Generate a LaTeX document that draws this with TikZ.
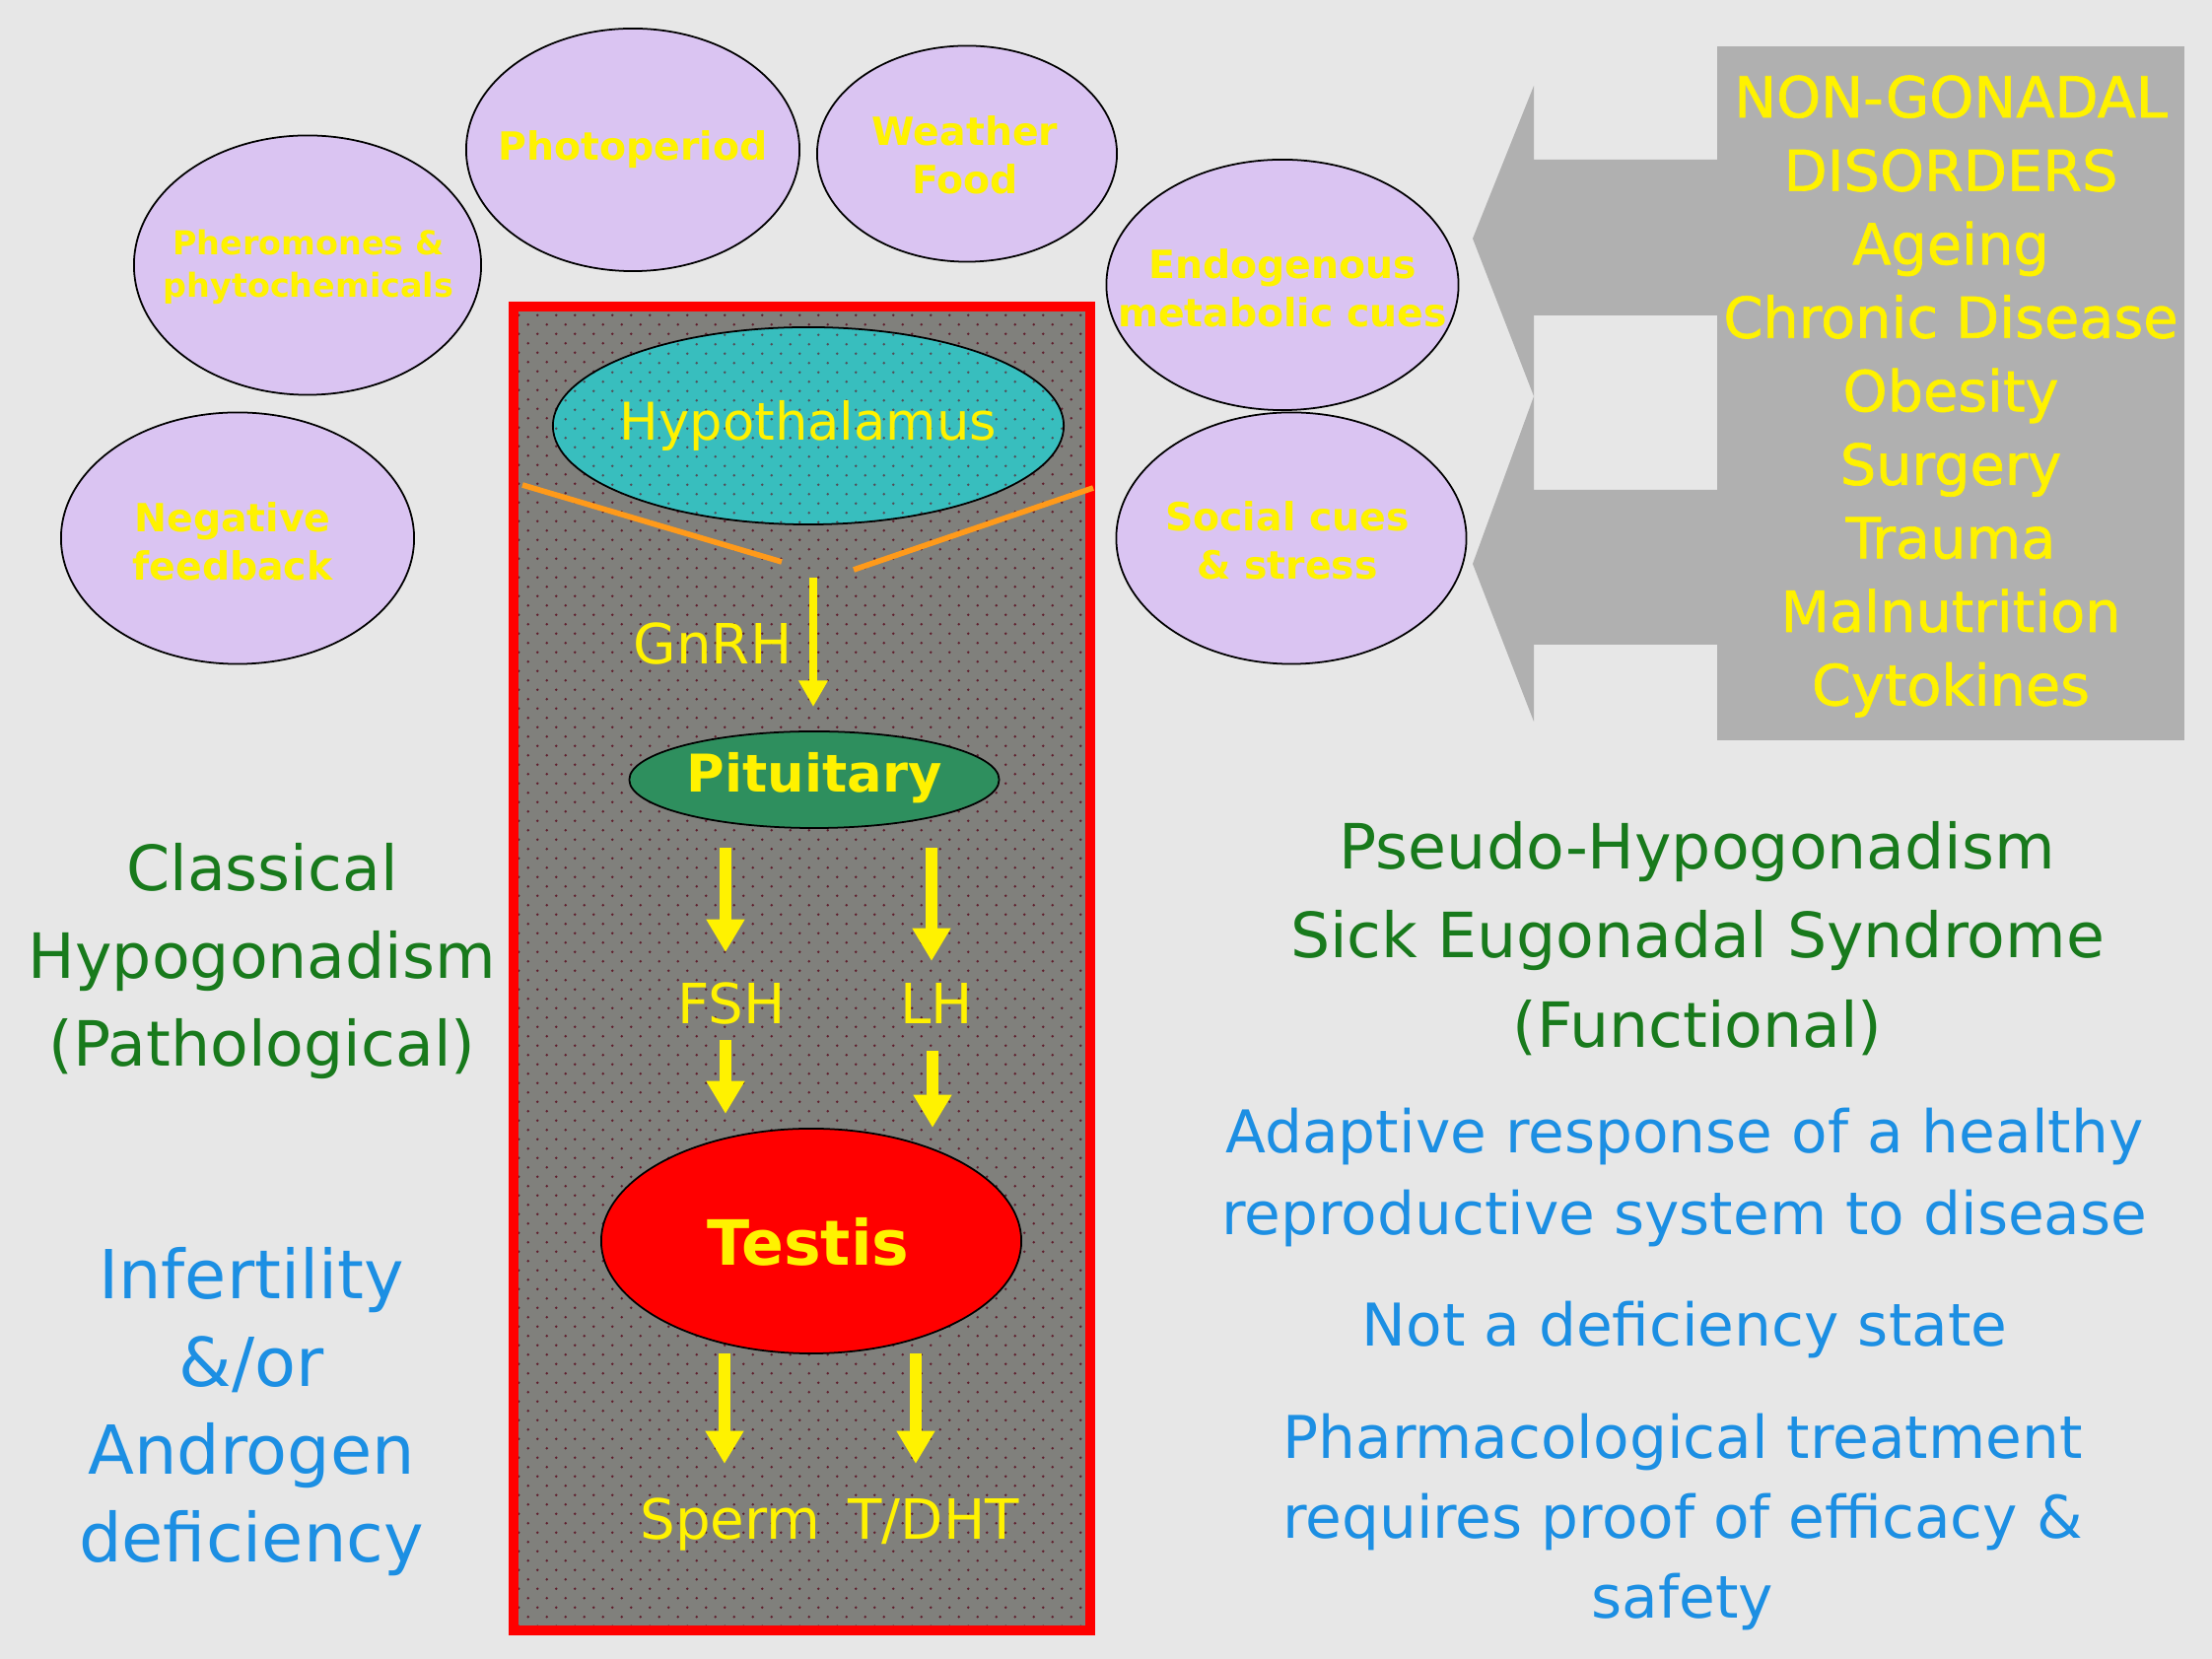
\documentclass[tikz,border=0pt]{standalone}
\usepackage{fontspec}
\setmainfont{DejaVu Sans}
\newfontfamily\heavyfont[FakeBold=1.2]{DejaVu Sans}
\usetikzlibrary{shapes.geometric,arrows.meta,patterns}

\definecolor{bggray}{RGB}{231,231,231}
\definecolor{boxgray}{RGB}{176,176,176}
\definecolor{cuefill}{RGB}{218,196,242}
\definecolor{hypoteal}{RGB}{56,190,190}
\definecolor{pitgreen}{RGB}{46,143,94}
\definecolor{dotred}{RGB}{95,30,45}
\definecolor{midgray}{RGB}{128,128,124}
\definecolor{txtgreen}{RGB}{24,122,28}
\definecolor{txtblue}{RGB}{28,143,227}
\definecolor{orangeline}{RGB}{255,154,26}

% staggered dots as in the slide background
\pgfdeclarepatternformonly{sparsedots}{\pgfpointorigin}{\pgfqpoint{5.4pt}{5.4pt}}{\pgfqpoint{5.4pt}{5.4pt}}{
  \pgfpathcircle{\pgfqpoint{1.35pt}{1.35pt}}{0.4pt}
  \pgfpathcircle{\pgfqpoint{4.05pt}{4.05pt}}{0.4pt}
  \pgfusepath{fill}
}

\tikzset{
  cue/.style={ellipse, draw=black, line width=0.5pt, fill=cuefill, inner sep=0pt},
  cuetext/.style={text=yellow, align=center, font=\fontsize{11.2}{14}\selectfont\bfseries},
  organ/.style={ellipse, draw=black, line width=0.5pt, inner sep=0pt},
  hormone/.style={text=yellow, font=\fontsize{16}{19}\selectfont},
  thinarrow/.style={yellow, line width=2.5pt, -{Triangle[length=7.6pt,width=8pt]}},
  fatarrow/.style={yellow, line width=3.4pt, -{Triangle[length=9.5pt,width=10.5pt]}},
  greentext/.style={text=txtgreen, align=center},
  bluetext/.style={text=txtblue, align=center},
}

\begin{document}
\begin{tikzpicture}[x=0.01cm,y=-0.01cm]
	\useasboundingbox (0,0) rectangle (2244,1683);
	\fill[bggray] (0,0) rectangle (2244,1683);

	% outside cues
	\node[cue, minimum width=3.52cm, minimum height=2.63cm] (pher) at (312,269) {};
	\node[cue, minimum width=3.38cm, minimum height=2.46cm] (photo) at (642,152) {};
	\node[cue, minimum width=3.04cm, minimum height=2.19cm] (weather) at (981,156) {};
	\node[cue, minimum width=3.58cm, minimum height=2.55cm] (neg) at (241,546) {};
	\node[cue, minimum width=3.57cm, minimum height=2.54cm] (endo) at (1301,289) {};
	\node[cue, minimum width=3.55cm, minimum height=2.55cm] (social) at (1310,546) {};
	\node[cuetext, font=\fontsize{9.5}{12}\selectfont\bfseries] (pher-t) at (313,271) {Pheromones \&\\phytochemicals};
	\node[cuetext] (photo-t) at (642,152) {Photoperiod};
	\node[cuetext] (weather-t) at (979,157) {Weather\\Food};
	\node[cuetext] (neg-t) at (236,549) {Negative\\feedback};
	\node[cuetext] (endo-t) at (1301,292) {Endogenous\\metabolic cues};
	\node[cuetext] (social-t) at (1306,548) {Social cues\\\& stress};

	% the axis
	\draw[red, line width=0.1cm, preaction={fill=midgray}, pattern=sparsedots, pattern color=dotred] (521,311) rectangle (1106,1654);
	\node[organ, minimum width=5.18cm, minimum height=2.0cm, preaction={fill=hypoteal}, pattern=sparsedots, pattern color=dotred!70!hypoteal] (hypo) at (820,432) {};
	\node[text=yellow, font=\fontsize{15}{18}\selectfont] (hypo-t) at (820,432) {Hypothalamus};
	\draw[orangeline, line width=1.6pt] (530,492) -- (793,570);
	\draw[orangeline, line width=1.6pt] (866,578) -- (1109,495);

	\coordinate (g1) at (825,586);
	\coordinate (g2) at (825,717);
	\draw[thinarrow] (g1) -- (g2);
	\node[hormone] (gnrh) at (723,653) {GnRH};

	\node[organ, fill=pitgreen, minimum width=3.75cm, minimum height=0.98cm] (pit) at (826,791) {};
	\node[text=yellow, font=\fontsize{15}{18}\selectfont\bfseries] (pit-t) at (826,789) {Pituitary};

	\coordinate (f1) at (736,860);
	\coordinate (f2) at (736,966);
	\coordinate (l1) at (945,860);
	\coordinate (l2) at (945,975);
	\draw[fatarrow] (f1) -- (f2);
	\draw[fatarrow] (l1) -- (l2);
	\node[hormone] (fsh) at (742,1018) {FSH};
	\node[hormone] (lh) at (950,1018) {LH};
	\coordinate (f3) at (736,1055);
	\coordinate (f4) at (736,1130);
	\coordinate (l3) at (946,1066);
	\coordinate (l4) at (946,1144);
	\draw[fatarrow] (f3) -- (f4);
	\draw[fatarrow] (l3) -- (l4);

	\node[organ, fill=red, minimum width=4.26cm, minimum height=2.28cm] (testis) at (823,1259) {};
	\node[text=yellow, font=\fontsize{18}{21}\selectfont\bfseries] (testis-t) at (820,1260) {Testis};

	\coordinate (s1) at (735,1373);
	\coordinate (s2) at (735,1485);
	\coordinate (t1) at (929,1373);
	\coordinate (t2) at (929,1485);
	\draw[fatarrow] (s1) -- (s2);
	\draw[fatarrow] (t1) -- (t2);
	\node[hormone] (sperm) at (741,1546) {Sperm};
	\node[hormone] (tdht) at (947,1544) {T/DHT};

	% non-gonadal box and its two arrows
	\fill[boxgray] (1742,47) rectangle (2216,751);
	\fill[boxgray] (1742,162) -- (1556,162) -- (1556,87) -- (1494,242) -- (1556,402) -- (1556,320) -- (1742,320) -- cycle;
	\fill[boxgray] (1742,497) -- (1556,497) -- (1556,402) -- (1494,572) -- (1556,732) -- (1556,654) -- (1742,654) -- cycle;
	\node[text=yellow, align=center, font=\heavyfont\fontsize{16.3}{21.2}\selectfont] (ngd) at (1979,402)
		{NON-GONADAL\\DISORDERS\\Ageing\\Chronic Disease\\Obesity\\Surgery\\Trauma\\Malnutrition\\Cytokines};

	% left texts
	\node[greentext, font=\fontsize{18}{25.3}\selectfont] (classical) at (266,975) {Classical\\Hypogonadism\\(Pathological)};
	\node[bluetext, font=\fontsize{19.5}{25.3}\selectfont] (infert) at (255,1432) {Infertility\\\&/or\\Androgen\\deficiency};

	% right texts
	\node[greentext, font=\fontsize{18}{25.8}\selectfont] (pseudo) at (1722,952) {Pseudo-Hypogonadism\\Sick Eugonadal Syndrome\\(Functional)};
	\node[bluetext, font=\fontsize{17}{23.6}\selectfont] (adaptive) at (1709,1195) {Adaptive response of a healthy\\reproductive system to disease};
	\node[bluetext, font=\fontsize{17}{23.6}\selectfont] (notdef) at (1709,1349) {Not a deficiency state};
	\node[bluetext, font=\fontsize{17}{23.1}\selectfont] (pharma) at (1707,1544) {Pharmacological treatment\\requires proof of efficacy \&\\safety};
\end{tikzpicture}
\end{document}
